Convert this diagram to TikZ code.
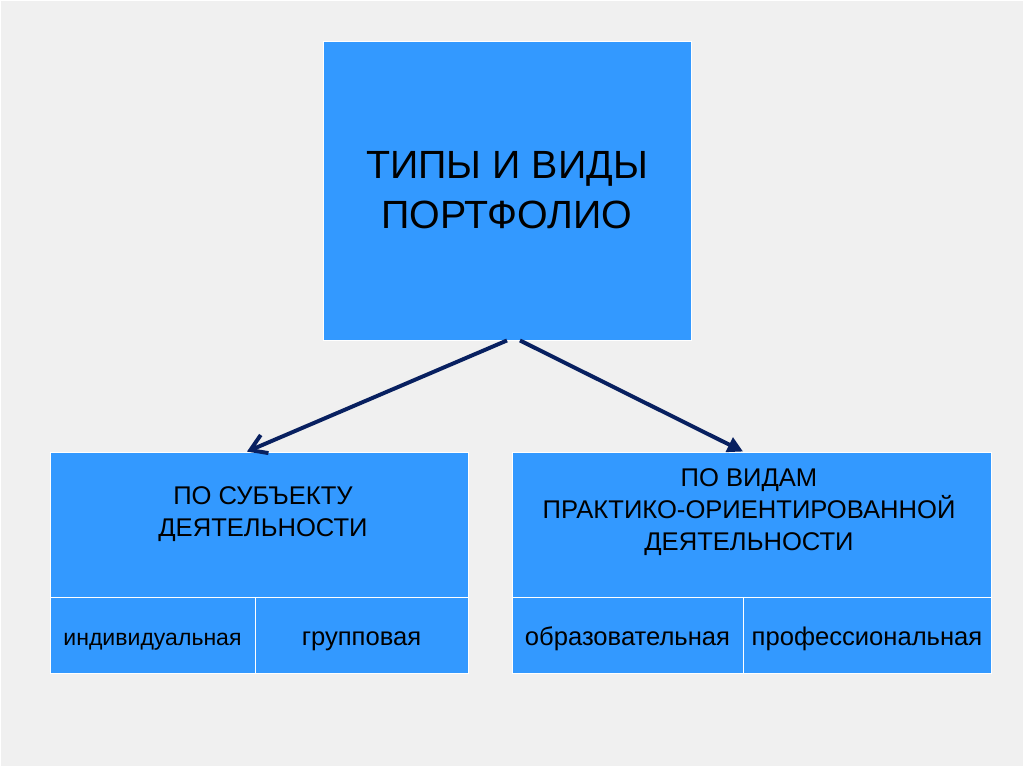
\documentclass[tikz,border=0pt]{standalone}
\usepackage{fontspec}
\setmainfont{Liberation Sans}
\usetikzlibrary{arrows.meta,positioning}
\definecolor{boxblue}{RGB}{51,153,255}
\definecolor{pagegray}{RGB}{240,240,240}
\definecolor{arrownavy}{RGB}{8,32,96}
\tikzset{
	cell/.style={draw=white, line width=0.6pt, fill=boxblue, inner sep=0pt, text=black, font=\fontsize{18.2}{23}\selectfont, align=center},
	lowcell/.style={cell, minimum height=1.9cm, text height=0.5cm, text depth=0pt},
	celltext/.style={inner sep=0pt, text=black, font=\fontsize{18.2}{23}\selectfont, align=center},
	link/.style={line width=2.8pt, color=arrownavy}
}

\begin{document}
\begin{tikzpicture}[x=0.025cm, y=-0.025cm]
		%%%%% START %%%%%
		
		\useasboundingbox (0, 0) rectangle (1024, 767);
		\draw[fill=pagegray, draw=white, line width=1.2pt] (0, 0) rectangle (1024, 767);
		
		\node[cell, minimum width=9.2cm, minimum height=7.475cm, font=\fontsize{28}{35.5}\selectfont] (title) at (507, 190.5) {ТИПЫ И ВИДЫ\\ПОРТФОЛИО};
		
		\node[cell, minimum width=10.45cm, minimum height=3.625cm] (subject) at (259, 524.5) {};
		\node[celltext] (subjecttext) at (263, 514) {ПО СУБЪЕКТУ\\ДЕЯТЕЛЬНОСТИ};
		\node[lowcell, minimum width=5.125cm, font=\fontsize{16.4}{20}\selectfont] (individual) at (152.5, 635) {индивидуальная};
		\node[lowcell, minimum width=5.325cm] (group) at (361.5, 635) {групповая};
		
		\node[cell, minimum width=11.975cm, minimum height=3.625cm] (kind) at (751.5, 524.5) {};
		\node[celltext] (kindtext) at (749, 512) {ПО ВИДАМ\\ПРАКТИКО-ОРИЕНТИРОВАННОЙ\\ДЕЯТЕЛЬНОСТИ};
		\node[lowcell, minimum width=5.775cm] (education) at (627.5, 635) {образовательная};
		\node[lowcell, minimum width=6.2cm] (profession) at (867, 635) {профессиональная};
		
		\draw[link, -{Straight Barb[length=11pt, width=14pt]}] (title.south) -- ([xshift=-0.3cm]subject.north);
		\draw[link, -{Triangle[length=11pt, width=11pt]}] ([xshift=0.325cm]title.south) -- ([xshift=-0.21cm]kind.north);
		
		%%%%% END %%%%%
\end{tikzpicture}
\end{document}
